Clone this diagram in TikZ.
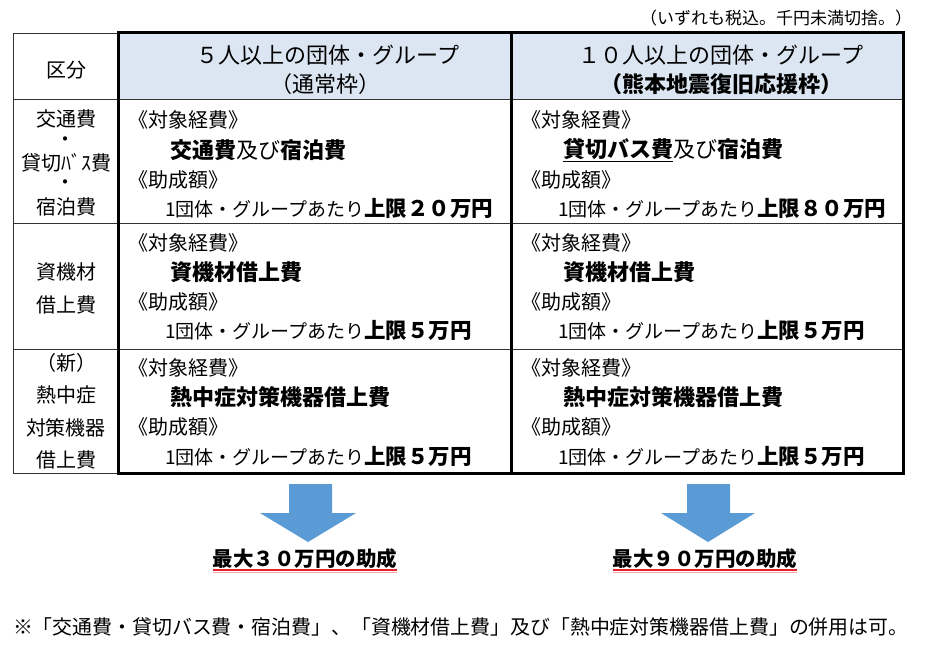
\documentclass[tikz,border=0pt]{standalone}
\usepackage{fontspec}
\setmainfont{Noto Sans CJK JP}
\newcommand\fsz[1]{\fontsize{#1}{#1}\selectfont}
\definecolor{hdrblue}{HTML}{DCE6F2}
\definecolor{arrowblue}{HTML}{5B9BD5}
\definecolor{ulred}{HTML}{E8202A}
\definecolor{ulpink}{HTML}{F4A6A8}
\begin{document}
\begin{tikzpicture}[x=1pt,y=-1pt,
  thinline/.style={line width=0.9pt, draw=black!80},
  thickline/.style={line width=3pt, draw=black},
  txt/.style={inner sep=0pt, outer sep=0pt},
  leftlbl/.style={txt, anchor=center, font=\fsz{20}},
  head/.style={txt, anchor=center, font=\fsz{22}},
  body/.style={txt, anchor=west, font=\fsz{20}},
  bodyb/.style={txt, anchor=west, font=\fsz{22}\bfseries},
  small/.style={txt, anchor=west, font=\fsz{19}},
  result/.style={txt, anchor=center, font=\fsz{20.5}\bfseries},
  bigarrow/.style={fill=arrowblue, draw=none}]
\useasboundingbox (0,0) rectangle (930,647);
\fill[white] (0,0) rectangle (930,647);

% header background
\fill[hdrblue] (118,33) rectangle (903,99);

% thin grid
\draw[thinline] (13,33) rectangle (118,473);
\draw[thinline] (13,99) -- (903,99);
\draw[thinline] (13,223) -- (903,223);
\draw[thinline] (13,349) -- (903,349);

% thick frame
\draw[thickline] (118,33) rectangle (903,473);
\draw[thickline] (511,33) -- (511,473);

% top note
\node[txt, anchor=east, font=\fsz{17}] (note) at (912,18) {（いずれも税込。千円未満切捨。）};

% header
\node[leftlbl] (kubun) at (66,70) {区分};
\node[head] (h2a) at (328,55) {５人以上の団体・グループ};
\node[head] (h2b) at (325,84) {（通常枠）};
\node[head] (h3a) at (721,55) {１０人以上の団体・グループ};
\node[head, font=\fsz{22}\bfseries] (h3b) at (721,84) {（熊本地震復旧応援枠）};

% left column
\node[leftlbl] (l1a) at (66,119) {交通費};
\node[leftlbl] (l1b) at (66,142) {・};
\node[leftlbl] (l1c) at (66,163) {貸切ﾊﾞｽ費};
\node[leftlbl] (l1d) at (66,185) {・};
\node[leftlbl] (l1e) at (66,207) {宿泊費};
\node[leftlbl] (l2a) at (66,272) {資機材};
\node[leftlbl] (l2b) at (66,305) {借上費};
\node[leftlbl] (l3a) at (66,363) {（新）};
\node[leftlbl] (l3b) at (66,395) {熱中症};
\node[leftlbl] (l3c) at (66,428) {対策機器};
\node[leftlbl] (l3d) at (66,460) {借上費};

% column 2
\node[body]  (a1) at (128,120) {《対象経費》};
\node[bodyb] (a2) at (170,150) {交通費{\mdseries 及び}宿泊費};
\node[body]  (a3) at (128,180) {《助成額》};
\node[small] (a4) at (165,208) {1団体・グループあたり{\fsz{21.5}\bfseries 上限２０万円}};

\node[body]  (b1) at (128,243) {《対象経費》};
\node[bodyb] (b2) at (170,272) {資機材借上費};
\node[body]  (b3) at (128,302) {《助成額》};
\node[small] (b4) at (165,330) {1団体・グループあたり{\fsz{21.5}\bfseries 上限５万円}};

\node[body]  (c1) at (128,368) {《対象経費》};
\node[bodyb] (c2) at (170,397) {熱中症対策機器借上費};
\node[body]  (c3) at (128,427) {《助成額》};
\node[small] (c4) at (165,456) {1団体・グループあたり{\fsz{21.5}\bfseries 上限５万円}};

% column 3
\node[body]  (d1) at (521,120) {《対象経費》};
\node[bodyb] (d2) at (563,150) {\underline{貸切バス費}{\mdseries 及び}宿泊費};
\node[body]  (d3) at (521,180) {《助成額》};
\node[small] (d4) at (558,208) {1団体・グループあたり{\fsz{21.5}\bfseries 上限８０万円}};

\node[body]  (e1) at (521,243) {《対象経費》};
\node[bodyb] (e2) at (563,272) {資機材借上費};
\node[body]  (e3) at (521,302) {《助成額》};
\node[small] (e4) at (558,330) {1団体・グループあたり{\fsz{21.5}\bfseries 上限５万円}};

\node[body]  (f1) at (521,368) {《対象経費》};
\node[bodyb] (f2) at (563,397) {熱中症対策機器借上費};
\node[body]  (f3) at (521,427) {《助成額》};
\node[small] (f4) at (558,456) {1団体・グループあたり{\fsz{21.5}\bfseries 上限５万円}};

% arrows
\fill[bigarrow] (289,484) -- (332,484) -- (332,513) -- (356,513) -- (308,542) -- (260,513) -- (289,513) -- cycle;
\fill[bigarrow] (687,484) -- (730,484) -- (730,513) -- (755,513) -- (708,542) -- (661,513) -- (687,513) -- cycle;

% results
\node[result] (r1) at (305,559) {最大３０万円の助成};
\node[result] (r2) at (705,559) {最大９０万円の助成};
\draw[ulred, line width=1.6pt] (r1.south west |- 0,570) -- (r1.south east |- 0,570);
\draw[ulpink, line width=1.2pt] (r1.south west |- 0,572.5) -- (r1.south east |- 0,572.5);
\draw[ulred, line width=1.6pt] (r2.south west |- 0,570) -- (r2.south east |- 0,570);
\draw[ulpink, line width=1.2pt] (r2.south west |- 0,572.5) -- (r2.south east |- 0,572.5);

% bottom note
\node[txt, anchor=west, font=\fsz{19.9}] (foot) at (13,627) {※「交通費・貸切バス費・宿泊費」、「資機材借上費」及び「熱中症対策機器借上費」の併用は可。};
\end{tikzpicture}
\end{document}
